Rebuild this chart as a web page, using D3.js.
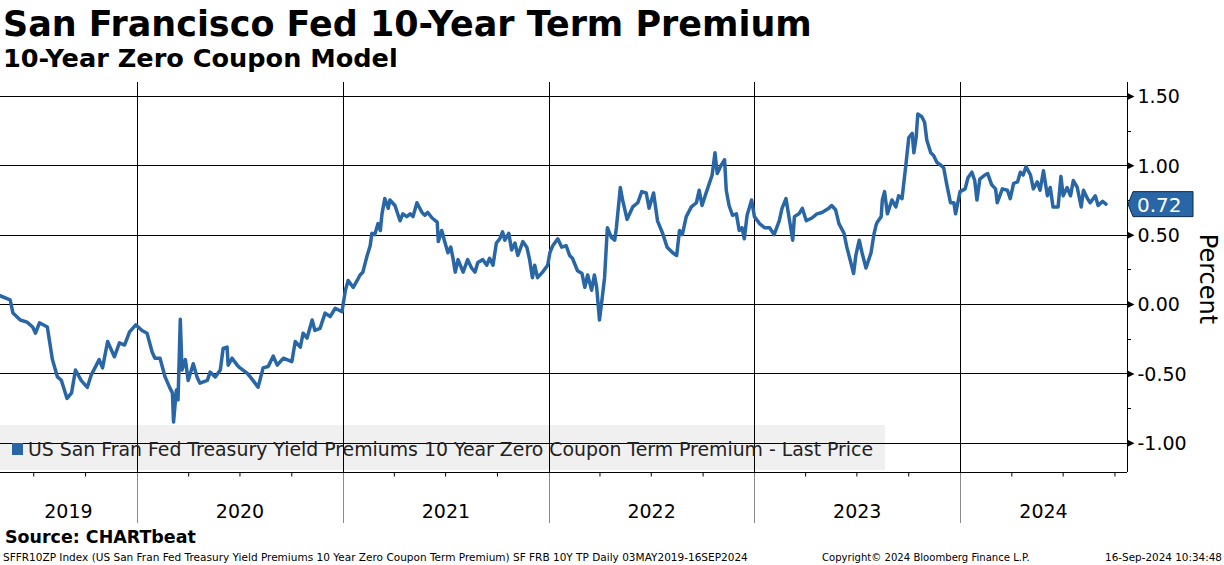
<!DOCTYPE html>
<html><head><meta charset="utf-8">
<script src="https://cdn.jsdelivr.net/npm/d3@7"></script>
<style>
html,body{margin:0;padding:0;background:#fff;}
svg{display:block;font-family:"DejaVu Sans",Verdana,sans-serif;}
</style></head>
<body><svg id="c" width="1224" height="565"></svg>
<script>
// ---- data ----
const dates = [
"2019-05-03","2019-05-21","2019-05-26","2019-06-08","2019-06-20","2019-06-30","2019-07-05","2019-07-12","2019-07-26","2019-08-04",
"2019-08-13","2019-08-20","2019-08-30","2019-09-07","2019-09-14","2019-09-24","2019-10-05","2019-10-12","2019-10-26","2019-11-01",
"2019-11-10","2019-11-22","2019-12-01","2019-12-10","2019-12-19","2019-12-30",
"2020-01-10","2020-01-19","2020-01-28","2020-02-02","2020-02-11","2020-02-20","2020-02-28","2020-03-04","2020-03-06","2020-03-11",
"2020-03-14","2020-03-16","2020-03-18","2020-03-21","2020-03-27","2020-04-01","2020-04-10","2020-04-17","2020-04-22","2020-05-05",
"2020-05-10","2020-05-19","2020-05-28","2020-06-02","2020-06-09","2020-06-11","2020-06-18","2020-06-27","2020-07-02","2020-07-15",
"2020-07-25","2020-08-03","2020-08-12","2020-08-21","2020-08-30","2020-09-06","2020-09-17","2020-10-02","2020-10-08","2020-10-17",
"2020-10-22","2020-10-29","2020-11-07","2020-11-12","2020-11-21","2020-11-30","2020-12-09","2020-12-18","2020-12-30",
"2021-01-05","2021-01-10","2021-01-19","2021-01-26","2021-01-31","2021-02-05","2021-02-12","2021-02-18","2021-02-21","2021-02-26",
"2021-03-04","2021-03-08","2021-03-11","2021-03-16","2021-03-22","2021-03-25","2021-04-03","2021-04-12","2021-04-17","2021-04-24",
"2021-04-30","2021-05-05","2021-05-12","2021-05-21","2021-05-26","2021-05-31","2021-06-08","2021-06-17","2021-06-19","2021-06-25",
"2021-07-01","2021-07-06","2021-07-11","2021-07-15","2021-07-19","2021-07-24","2021-08-02","2021-08-10","2021-08-17","2021-08-23",
"2021-08-28","2021-09-06","2021-09-13","2021-09-18","2021-09-24","2021-09-30","2021-10-06","2021-10-11","2021-10-15","2021-10-22",
"2021-10-27","2021-11-02","2021-11-07","2021-11-16","2021-11-23","2021-11-28","2021-12-03","2021-12-07","2021-12-12","2021-12-21",
"2021-12-30",
"2022-01-03","2022-01-08","2022-01-17","2022-01-24","2022-02-01","2022-02-07","2022-02-12","2022-02-21","2022-03-01","2022-03-06",
"2022-03-11","2022-03-18","2022-03-23","2022-03-27","2022-04-01","2022-04-06","2022-04-10","2022-04-15","2022-04-22","2022-04-28",
"2022-05-01","2022-05-08","2022-05-12","2022-05-20","2022-05-30","2022-06-08","2022-06-15","2022-06-23","2022-06-28","2022-07-06",
"2022-07-13","2022-07-22","2022-07-30","2022-08-09","2022-08-16","2022-08-21","2022-08-26","2022-09-02","2022-09-11","2022-09-20",
"2022-09-25","2022-09-30","2022-10-08","2022-10-13","2022-10-18","2022-10-23","2022-10-27","2022-11-03","2022-11-09","2022-11-12",
"2022-11-17","2022-11-23","2022-11-30","2022-12-05","2022-12-10","2022-12-14","2022-12-19","2022-12-27",
"2023-01-01","2023-01-10","2023-01-19","2023-01-28","2023-02-05","2023-02-14","2023-02-19","2023-02-26","2023-03-10","2023-03-13",
"2023-03-21","2023-03-27","2023-04-03","2023-04-13","2023-04-22","2023-05-01","2023-05-13","2023-05-18","2023-05-25","2023-05-31",
"2023-06-09","2023-06-14","2023-06-21","2023-06-26","2023-06-30","2023-07-06","2023-07-11","2023-07-18","2023-07-27","2023-08-01",
"2023-08-05","2023-08-07","2023-08-14","2023-08-16","2023-08-20","2023-08-25","2023-09-02","2023-09-09","2023-09-14","2023-09-20",
"2023-09-27","2023-10-02","2023-10-08","2023-10-11","2023-10-15","2023-10-18","2023-10-25","2023-10-30","2023-11-03","2023-11-10",
"2023-11-15","2023-11-21","2023-11-28","2023-12-03","2023-12-08","2023-12-15","2023-12-21","2023-12-24","2024-01-01",
"2024-01-10","2024-01-15","2024-01-22","2024-01-27","2024-01-31","2024-02-05","2024-02-14","2024-02-19","2024-02-26","2024-03-04",
"2024-03-07","2024-03-16","2024-03-25","2024-03-30","2024-04-05","2024-04-12","2024-04-17","2024-04-22","2024-04-27","2024-05-05",
"2024-05-10","2024-05-17","2024-05-22","2024-05-28","2024-06-04","2024-06-09","2024-06-14","2024-06-23","2024-06-28","2024-07-02",
"2024-07-09","2024-07-15","2024-07-20","2024-07-27","2024-08-03","2024-08-07","2024-08-14","2024-08-19","2024-08-28","2024-09-02",
"2024-09-10","2024-09-16"
];
const values = [
0.06,0.03,-0.065,-0.115,-0.13,-0.165,-0.21,-0.135,-0.165,-0.40,
-0.525,-0.55,-0.68,-0.64,-0.475,-0.55,-0.60,-0.51,-0.40,-0.46,
-0.27,-0.38,-0.28,-0.295,-0.20,-0.15,
-0.19,-0.21,-0.345,-0.39,-0.39,-0.525,-0.60,-0.64,-0.85,-0.62,
-0.69,-0.40,-0.11,-0.475,-0.40,-0.55,-0.43,-0.53,-0.57,-0.55,
-0.49,-0.525,-0.475,-0.32,-0.31,-0.44,-0.39,-0.44,-0.46,-0.50,
-0.55,-0.60,-0.46,-0.45,-0.375,-0.44,-0.39,-0.415,-0.27,-0.31,
-0.21,-0.245,-0.115,-0.19,-0.175,-0.065,-0.09,-0.03,-0.055,
0.10,0.17,0.12,0.17,0.21,0.23,0.34,0.42,0.51,0.50,
0.58,0.53,0.65,0.76,0.69,0.75,0.71,0.60,0.65,0.63,
0.65,0.63,0.73,0.66,0.64,0.66,0.62,0.59,0.45,0.53,
0.44,0.37,0.41,0.33,0.23,0.32,0.23,0.32,0.26,0.23,
0.30,0.32,0.28,0.33,0.28,0.44,0.47,0.52,0.46,0.51,
0.39,0.44,0.35,0.45,0.41,0.32,0.19,0.28,0.19,0.23,
0.28,
0.37,0.42,0.47,0.41,0.42,0.35,0.33,0.24,0.22,0.12,
0.21,0.10,0.21,0.12,-0.115,0.05,0.19,0.55,0.48,0.46,
0.55,0.84,0.75,0.61,0.70,0.73,0.81,0.80,0.69,0.80,
0.60,0.51,0.41,0.37,0.35,0.53,0.50,0.63,0.70,0.73,
0.82,0.71,0.81,0.87,0.93,1.09,0.94,1.00,1.04,0.82,
0.71,0.64,0.65,0.53,0.55,0.47,0.64,0.75,
0.63,0.58,0.55,0.55,0.50,0.60,0.69,0.76,0.46,0.63,
0.65,0.69,0.60,0.62,0.65,0.66,0.69,0.71,0.68,0.58,
0.51,0.41,0.30,0.22,0.35,0.46,0.37,0.26,0.37,0.50,
0.57,0.59,0.63,0.75,0.81,0.65,0.75,0.70,0.78,0.76,
1.01,1.20,1.23,1.09,1.20,1.37,1.35,1.31,1.18,1.09,
1.07,1.02,1.00,0.98,0.87,0.73,0.73,0.65,0.81,
0.83,0.91,0.95,0.89,0.75,0.90,0.93,0.94,0.86,0.83,
0.73,0.83,0.82,0.76,0.87,0.88,0.95,0.93,0.99,0.93,
0.83,0.88,0.82,0.96,0.78,0.84,0.70,0.70,0.92,0.78,
0.84,0.78,0.89,0.84,0.70,0.82,0.76,0.73,0.78,0.71,
0.74,0.72
];
const yTicks = [-1.0,-0.5,0.0,0.5,1.0,1.5];
const yMinorTicks = [-0.75,-0.25,0.25,0.75,1.25];
const yearLabels = ["2019","2020","2021","2022","2023","2024"];
const lastValue = 0.72;
const titleText = "San Francisco Fed 10-Year Term Premium";
const subtitleText = "10-Year Zero Coupon Model";
const legendText = "US San Fran Fed Treasury Yield Premiums 10 Year Zero Coupon Term Premium - Last Price";
const sourceText = "Source: CHARTbeat";
const footLeft = "SFFR10ZP Index (US San Fran Fed Treasury Yield Premiums 10 Year Zero Coupon Term Premium) SF FRB 10Y TP  Daily 03MAY2019-16SEP2024";
const footMid = "Copyright\u00A9 2024 Bloomberg Finance L.P.";
const footRight = "16-Sep-2024 10:34:48";

// ---- layout ----
const svg = d3.select("#c");
const parse = d3.timeParse("%Y-%m-%d");
const data = dates.map((d,i)=>({date:parse(d), v:values[i]}));
const L = 0, R = 1127, T = 82, B = 472;
const blue = "#2966a6";
const fmt = d => d.toFixed(2);

const x = d3.scaleTime().domain([parse("2019-05-03"), parse("2024-09-16")]).range([0, 1106]);
const y = d3.scaleLinear().domain([-1.21, 1.60]).range([B, T]);

function fit(sel, w){
  const n = sel.node(); const fs = parseFloat(sel.attr("font-size"));
  const len = n.getComputedTextLength();
  sel.attr("font-size", (fs*w/len).toFixed(2));
}

// legend box (behind gridlines)
svg.append("rect").attr("x",0).attr("y",425).attr("width",885).attr("height",45).attr("fill","#f0f0f0");

// horizontal gridlines
svg.append("g").selectAll("line").data(yTicks).join("line")
  .attr("x1",L).attr("x2",R).attr("y1",d=>Math.round(y(d))+0.5).attr("y2",d=>Math.round(y(d))+0.5)
  .attr("stroke","#000").attr("stroke-width",1);

// vertical year lines
const yearStarts = yearLabels.slice(1).map(s=>parse(s+"-01-01"));
svg.append("g").selectAll("line").data(yearStarts).join("line")
  .attr("x1",d=>Math.round(x(d))+0.5).attr("x2",d=>Math.round(x(d))+0.5).attr("y1",T).attr("y2",B)
  .attr("stroke","#000").attr("stroke-width",1);
svg.append("g").selectAll("line").data(yearStarts).join("line")
  .attr("x1",d=>Math.round(x(d))+0.5).attr("x2",d=>Math.round(x(d))+0.5).attr("y1",B).attr("y2",523)
  .attr("stroke","#8a8a8a").attr("stroke-width",1);

// bottom axis with quarterly ticks
const xAxis = d3.axisBottom(x).tickValues(d3.timeMonth.every(3).range(parse("2019-06-01"), parse("2024-12-01")).filter(d=>d.getMonth()!==0 && x(d)<R))
  .tickFormat("").tickSize(4).tickSizeOuter(0);
const gx = svg.append("g").attr("transform",`translate(0,${B+0.5})`).call(xAxis);
gx.select(".domain").attr("d",`M${L},0H${R}`).attr("stroke","#000");
gx.selectAll(".tick line").attr("stroke","#000");

// year labels
const yearCenters = yearLabels.map(s=>{
  const a = Math.max(L, x(parse(s+"-01-01"))); const b = Math.min(R, x(parse((+s+1)+"-01-01")));
  return (a+b)/2;
});
svg.append("g").selectAll("text").data(yearLabels).join("text")
  .attr("x",(d,i)=>yearCenters[i]).attr("y",518).attr("text-anchor","middle")
  .attr("font-size",19).attr("fill","#000").text(d=>d);

// right axis
const yAxis = d3.axisRight(y).tickValues(yTicks).tickSize(0).tickFormat(fmt).tickPadding(10);
const gy = svg.append("g").attr("transform",`translate(${R+0.5},0)`).call(yAxis);
gy.select(".domain").attr("d",`M0,${T}V${B}`).attr("stroke","#000");
gy.selectAll(".tick text").attr("font-size",19).attr("fill","#000").attr("font-family","DejaVu Sans").attr("dy","0.36em");
gy.selectAll(".tick").append("path").attr("d","M0,-3.5L7,0L0,3.5Z").attr("fill","#000");
svg.append("g").selectAll("line").data(yMinorTicks).join("line")
  .attr("x1",R).attr("x2",R+4).attr("y1",d=>Math.round(y(d))+0.5).attr("y2",d=>Math.round(y(d))+0.5)
  .attr("stroke","#000");

// Percent label
svg.append("text").attr("transform",`translate(1200,279) rotate(90)`).attr("text-anchor","middle")
  .attr("font-size",24).attr("fill","#000").text("Percent");

// series line
const line = d3.line().x(d=>x(d.date)).y(d=>y(d.v)).curve(d3.curveLinear);
svg.append("path").datum(data).attr("d",line).attr("fill","none").attr("stroke",blue)
  .attr("stroke-width",3.5).attr("stroke-linejoin","round").attr("stroke-linecap","round");

// legend text and marker
svg.append("rect").attr("x",12).attr("y",443).attr("width",11).attr("height",12).attr("fill",blue);
const lt = svg.append("text").attr("x",28).attr("y",456).attr("font-size",19).attr("fill","#222").text(legendText);
fit(lt, 845);

// last value tag
const yl = y(lastValue);
svg.append("path").attr("d",`M${R+1},${yl}L${R+6},${yl-12.5}H${R+66}V${yl+12.5}H${R+6}Z`)
  .attr("fill",blue).attr("stroke","#0d2a4a").attr("stroke-width",1);
svg.append("text").attr("x",R+10).attr("y",yl+7.5).attr("font-size",20).attr("fill","#fff").text(fmt(lastValue));

// titles
const t1 = svg.append("text").attr("x",3).attr("y",36).attr("font-size",34).attr("font-weight","bold").attr("fill","#000").text(titleText);
fit(t1, 809);
const t2 = svg.append("text").attr("x",3).attr("y",67).attr("font-size",23).attr("font-weight","bold").attr("fill","#000").text(subtitleText);
fit(t2, 395);

// source & footer
const s1 = svg.append("text").attr("x",5).attr("y",543).attr("font-size",17).attr("font-weight","bold").attr("fill","#000").text(sourceText);
fit(s1, 191);
const f1 = svg.append("text").attr("x",3).attr("y",561).attr("font-size",11).attr("fill","#000").text(footLeft);
fit(f1, 745);
const f2 = svg.append("text").attr("x",822).attr("y",561).attr("font-size",11).attr("fill","#000").text(footMid);
fit(f2, 208);
const f3 = svg.append("text").attr("x",1222).attr("y",561).attr("font-size",11).attr("text-anchor","end").attr("fill","#000").text(footRight);
fit(f3, 117);
</script></body></html>
